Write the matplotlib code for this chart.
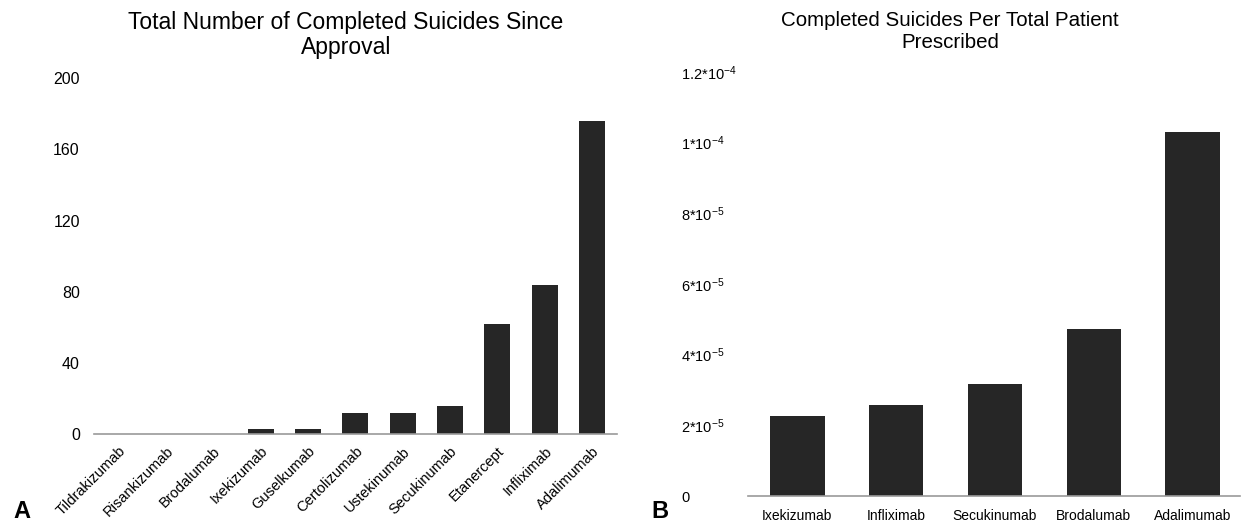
import numpy as np
import matplotlib
matplotlib.use("Agg")
import matplotlib.pyplot as plt

plt.rcParams['font.family'] = ['Liberation Sans', 'DejaVu Sans']
plt.rcParams['mathtext.default'] = 'regular'

# panel A: completed suicides since approval
drugs_a = ["Tildrakizumab", "Risankizumab", "Brodalumab", "Ixekizumab", "Guselkumab",
           "Certolizumab", "Ustekinumab", "Secukinumab", "Etanercept", "Infliximab",
           "Adalimumab"]
suicides_a = [0, 0, 0, 3, 3, 12, 12, 16, 62, 84, 176]
yticks_a = [0, 40, 80, 120, 160, 200]

# panel B: completed suicides per patient prescribed
drugs_b = ["Ixekizumab", "Infliximab", "Secukinumab", "Brodalumab", "Adalimumab"]
rate_b = [2.26e-5, 2.58e-5, 3.17e-5, 4.73e-5, 1.03e-4]
yticks_b = [0, 2e-5, 4e-5, 6e-5, 8e-5, 1e-4, 1.2e-4]
yticklabels_b = ["0", "2*10$^{-5}$", "4*10$^{-5}$", "6*10$^{-5}$", "8*10$^{-5}$",
                 "1*10$^{-4}$", "1.2*10$^{-4}$"]

bar_color = "#262626"
axis_color = "#9a9a9a"

W, H = 1244, 523
fig = plt.figure(figsize=(W / 100, H / 100), dpi=100)

def px_axes(x0, x1, y0, y1):
    # y measured from the top of the figure, in pixels
    return fig.add_axes([x0 / W, 1 - y1 / H, (x1 - x0) / W, (y1 - y0) / H])

def clean(ax):
    for s in ["top", "right", "left"]:
        ax.spines[s].set_visible(False)
    ax.spines["bottom"].set_color(axis_color)
    ax.spines["bottom"].set_linewidth(1.2)
    ax.tick_params(axis="both", length=0)

# ---- panel A
axA = px_axes(93.7, 616.6, 78, 434.3)
xa = np.arange(len(drugs_a))
axA.bar(xa, suicides_a, width=0.55, color=bar_color)
axA.set_xlim(-0.53, 10.52)
axA.set_ylim(0, 200)
axA.set_yticks(yticks_a)
axA.set_yticklabels([str(v) for v in yticks_a], fontsize=11.5)
axA.tick_params(axis="y", pad=10)
axA.set_xticks(xa)
axA.set_xticklabels(drugs_a, rotation=45, ha="right", va="top",
                    rotation_mode="anchor", fontsize=10.5)
axA.tick_params(axis="x", pad=7)
clean(axA)

fig.text(346 / W, 1 - 35 / H, "Total Number of Completed Suicides Since\nApproval",
         ha="center", va="center", fontsize=16.5, linespacing=1.09)
fig.text(13 / W, 1 - 518 / H, "A", fontsize=17, fontweight="bold", ha="left", va="baseline")

# ---- panel B
axB = px_axes(748, 1240, 72, 496)
xb = np.arange(len(drugs_b))
axB.bar(xb, rate_b, width=0.55, color=bar_color)
axB.set_xlim(-0.5, 4.48)
axB.set_ylim(0, 1.2e-4)
axB.set_yticks(yticks_b)
axB.set_yticklabels(yticklabels_b, fontsize=10.5, ha="left")
axB.tick_params(axis="y", pad=48)
axB.set_xticks(xb)
axB.set_xticklabels(drugs_b, fontsize=10)
axB.tick_params(axis="x", pad=9)
clean(axB)

fig.text(950 / W, 1 - 31 / H, "Completed Suicides Per Total Patient\nPrescribed",
         ha="center", va="center", fontsize=14.8, linespacing=1.2)
fig.text(651 / W, 1 - 518 / H, "B", fontsize=17, fontweight="bold", ha="left", va="baseline")

fig.savefig("out.png", dpi=100)
